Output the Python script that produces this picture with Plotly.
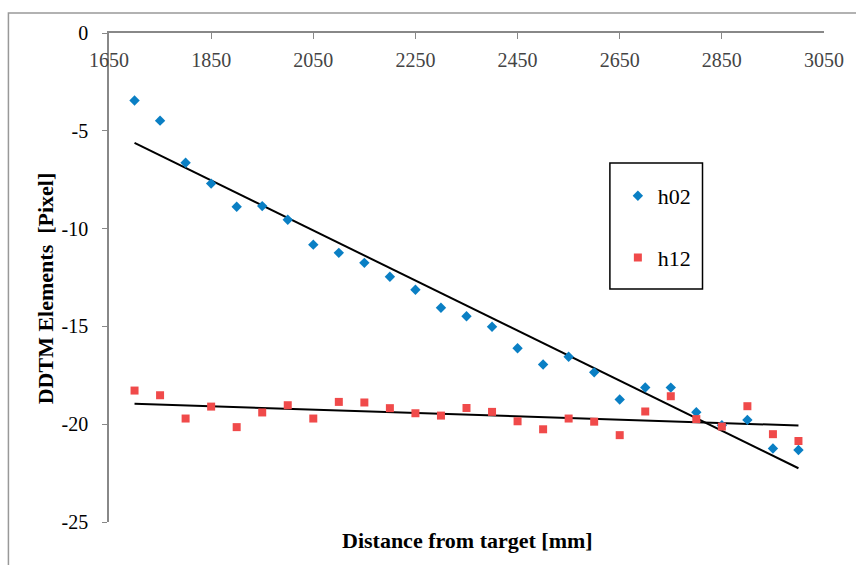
import numpy as np
import plotly.graph_objects as go

distance = [1700, 1750, 1800, 1850, 1900, 1950, 2000, 2050, 2100, 2150, 2200, 2250, 2300, 2350,
            2400, 2450, 2500, 2550, 2600, 2650, 2700, 2750, 2800, 2850, 2900, 2950, 3000]
h02 = [-3.45, -4.48, -6.63, -7.70, -8.88, -8.85, -9.55, -10.82, -11.24, -11.75, -12.46, -13.13,
       -14.05, -14.48, -15.02, -16.12, -16.95, -16.55, -17.35, -18.74, -18.12, -18.13, -19.39,
       -20.05, -19.78, -21.24, -21.32]
h12 = [-18.28, -18.52, -19.71, -19.10, -20.15, -19.40, -19.03, -19.71, -18.86, -18.89, -19.18,
       -19.44, -19.56, -19.17, -19.37, -19.85, -20.26, -19.71, -19.87, -20.56, -19.35, -18.57,
       -19.74, -20.12, -19.08, -20.51, -20.86]
x_ticks = [1650, 1850, 2050, 2250, 2450, 2650, 2850, 3050]
x_labels = ["1650", "1850", "2050", "2250", "2450", "2650", "2850", "3050"]
y_ticks = [0, -5, -10, -15, -20, -25]
y_labels = ["0", "-5", "-10", "-15", "-20", "-25"]

FONT = "Liberation Serif"
W, H = 856, 565
L, R, T, B = 109, 29, 33, 43
PW, PH = W - L - R, H - T - B


def px_x(px):
    return (px - L) / PW


def px_y(py):
    return (H - B - py) / PH


fig = go.Figure()

xs = np.array([distance[0], distance[-1]], dtype=float)
for ys in (h02, h12):
    k, c = np.polyfit(distance, ys, 1)
    fig.add_trace(go.Scatter(x=xs, y=k * xs + c, mode="lines", line=dict(color="black", width=2),
                             showlegend=False, hoverinfo="skip"))

fig.add_trace(go.Scatter(x=distance, y=h02, mode="markers", name="h02", legendgroup="a",
                         marker=dict(symbol="diamond", color="#0A7FC4", size=8)))
fig.add_trace(go.Scatter(x=distance, y=h12, mode="markers", name="h12", legendgroup="b",
                         marker=dict(symbol="square", color="#F04A4A", size=8)))

fig.update_layout(
    width=W, height=H,
    margin=dict(l=L, r=R, t=T, b=B),
    paper_bgcolor="white", plot_bgcolor="white",
    font=dict(family=FONT, size=20, color="black"),
    showlegend=True,
    legend=dict(x=px_x(620), y=px_y(175), xanchor="left", yanchor="top",
                borderwidth=0, bgcolor="rgba(0,0,0,0)",
                font=dict(family=FONT, size=22), tracegroupgap=30,
                itemwidth=30),
    xaxis=dict(range=[1650, 3050], tickvals=x_ticks, ticktext=x_labels, side="top",
               ticks="inside", ticklen=6, tickcolor="#888", showline=True, linecolor="#888",
               linewidth=1.5, showgrid=False, zeroline=False, ticklabelposition="inside",
               ticklabeloverflow="allow", ticklabelstandoff=15,
               tickfont=dict(family=FONT, size=20)),
    yaxis=dict(range=[-25, 0], tickvals=y_ticks, ticktext=y_labels, ticks="outside",
               ticklen=5, tickcolor="#888", showline=True, linecolor="#888", linewidth=1.5,
               showgrid=False, zeroline=False, ticklabelstandoff=10,
               tickfont=dict(family=FONT, size=20)),
    annotations=[
        dict(text="<b>Distance from target [mm]</b>", xref="paper", yref="paper",
             x=px_x(469), y=px_y(540), xanchor="center", yanchor="middle", showarrow=False,
             font=dict(family=FONT, size=22)),
        dict(text="<b>DDTM Elements  [Pixel]</b>", xref="paper", yref="paper",
             x=px_x(45), y=px_y(288), xanchor="center", yanchor="middle", showarrow=False,
             textangle=-90, font=dict(family=FONT, size=22)),
    ],
    shapes=[
        dict(type="rect", xref="paper", yref="paper",
             x0=px_x(8), x1=px_x(870), y0=px_y(580), y1=px_y(13),
             line=dict(color="#999", width=1.5), layer="below"),
        dict(type="rect", xref="paper", yref="paper",
             x0=px_x(612), x1=px_x(705), y0=px_y(289), y1=px_y(163),
             line=dict(color="black", width=1.5), fillcolor="white", layer="above"),
    ],
)

fig.write_html("out.html")
